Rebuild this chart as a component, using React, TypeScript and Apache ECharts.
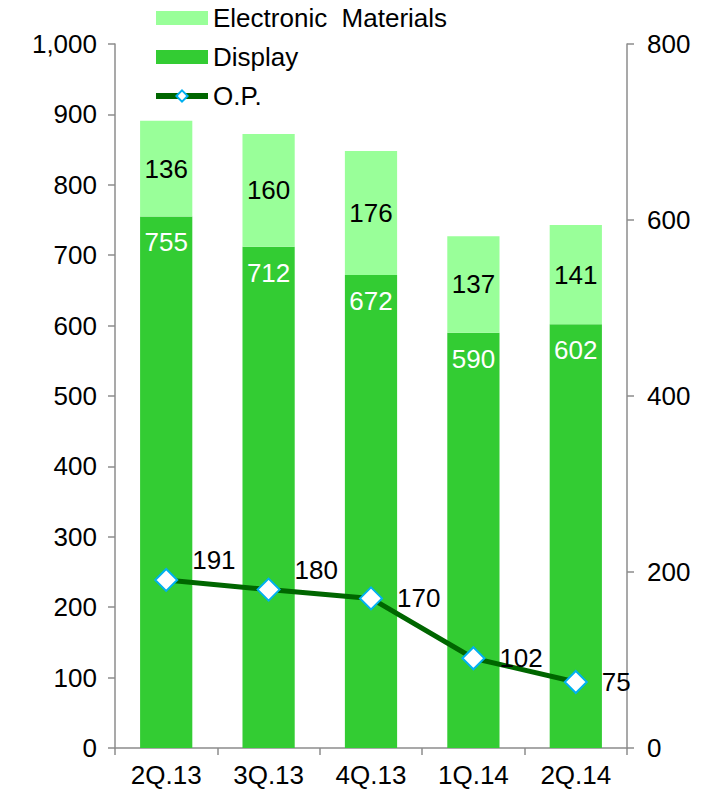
import React, { useEffect, useRef } from "react";
import * as echarts from "echarts";

const categories = ["2Q.13", "3Q.13", "4Q.13", "1Q.14", "2Q.14"];
const displayValues = [755, 712, 672, 590, 602];
const electronicValues = [136, 160, 176, 137, 141];
const opValues = [191, 180, 170, 102, 75];
const opLabelOffsets = [[0, -20], [0, -20], [0, 0], [0, 0], [0, 0]];

export default function App() {
  const ref = useRef<HTMLDivElement>(null);
  useEffect(() => {
    const chart = echarts.init(ref.current!, null, { renderer: "svg" });
    const font = "Arial, 'Liberation Sans', sans-serif";
    const fs = 26;
    const axisLine = { show: true, lineStyle: { color: "#8c8c8c", width: 1.5 } };
    const axisTick = { show: true, length: 7, lineStyle: { color: "#8c8c8c", width: 1.5 } };
    chart.setOption({
      animation: false,
      textStyle: { fontFamily: font },
      legend: {
        orient: "vertical",
        left: 148,
        top: 0,
        itemWidth: 52,
        itemHeight: 14,
        itemGap: 13,
        textStyle: { fontSize: fs, color: "#000", fontFamily: font },
        data: [
          { name: "Electronic  Materials", icon: "rect" },
          { name: "Display", icon: "rect" },
          { name: "O.P.", lineStyle: { width: 6, color: "#006600" } },
        ],
      },
      grid: { left: 115, right: 86, top: 44, bottom: 45, containLabel: false },
      xAxis: {
        type: "category",
        data: categories,
        axisLine,
        axisTick: { ...axisTick, alignWithLabel: false },
        axisLabel: { fontSize: fs, color: "#000", margin: 14, fontFamily: font },
      },
      yAxis: [
        {
          type: "value",
          min: 0,
          max: 1000,
          interval: 100,
          axisLine,
          axisTick,
          splitLine: { show: false },
          axisLabel: {
            fontSize: fs,
            color: "#000",
            margin: 18,
            fontFamily: font,
            formatter: (v: number) => v.toLocaleString("en-US"),
          },
        },
        {
          type: "value",
          min: 0,
          max: 800,
          interval: 200,
          axisLine,
          axisTick,
          splitLine: { show: false },
          axisLabel: { fontSize: fs, color: "#000", margin: 20, fontFamily: font },
        },
      ],
      series: [
        {
          name: "Display",
          type: "bar",
          stack: "s",
          barWidth: "51%",
          data: displayValues,
          itemStyle: { color: "#33CC33" },
          label: {
            show: true,
            position: "insideTop",
            distance: 13,
            color: "#fff",
            fontSize: fs,
            fontFamily: font,
          },
        },
        {
          name: "Electronic  Materials",
          type: "bar",
          stack: "s",
          barWidth: "51%",
          data: electronicValues,
          itemStyle: { color: "#99FF99" },
          label: {
            show: true,
            position: "inside",
            color: "#000",
            fontSize: fs,
            fontFamily: font,
          },
        },
        {
          name: "O.P.",
          type: "line",
          yAxisIndex: 1,
          data: opValues.map((v, i) => ({
            value: v,
            label: { offset: opLabelOffsets[i] },
          })),
          lineStyle: { color: "#006600", width: 5 },
          itemStyle: { color: "#fff", borderColor: "#00B0F0", borderWidth: 2 },
          symbol: "diamond",
          symbolSize: 22,
          label: {
            show: true,
            position: "right",
            distance: 14,
            color: "#000",
            fontSize: fs,
            fontFamily: font,
          },
        },
      ],
    });
    return () => chart.dispose();
  }, []);
  return <div ref={ref} style={{ width: 713, height: 793, position: "absolute", left: 0, top: 0 }} />;
}
